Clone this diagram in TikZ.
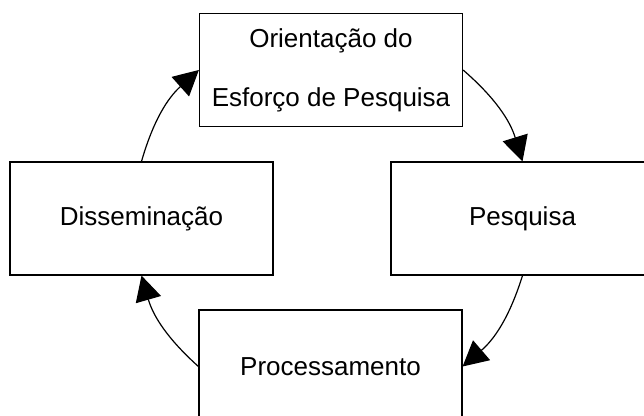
\documentclass[tikz,border=0pt]{standalone}
\usepackage{fontspec}
\setmainfont{Liberation Sans}
\usetikzlibrary{arrows.meta}

\tikzset{
  etapa/.style = {draw, line width=0.6pt, rectangle, minimum width=131.5pt,
                  minimum height=56.5pt, inner sep=0pt, align=center,
                  font=\fontsize{13}{29.5}\selectfont},
  seta/.style  = {->, line width=0.6pt},
  >={Triangle[length=12.5pt,width=13pt]}
}

\begin{document}
\begin{tikzpicture}[x=0.5pt, y=0.5pt]
                        \clip (0,0) rectangle (644,416);
                        % as quatro etapas do ciclo
                        \node[etapa] (orientacao) at (331,346) {Orientação do\\Esforço de Pesquisa};
                        \node[etapa] (pesquisa) at (522.5,197.5) {Pesquisa};
                        \node[etapa] (processamento) at (330.5,49.5) {Processamento};
                        \node[etapa] (disseminacao) at (141.5,197.5) {Disseminação};
                        % setas
                        \draw[seta] (orientacao.east) to[bend left=16] (pesquisa.north);
                        \draw[seta] (pesquisa.south) to[bend left=16] (processamento.east);
                        \draw[seta] (processamento.west) to[bend left=16] (disseminacao.south);
                        \draw[seta] (disseminacao.north) to[bend left=16] (orientacao.west);
                    \end{tikzpicture}
\end{document}
